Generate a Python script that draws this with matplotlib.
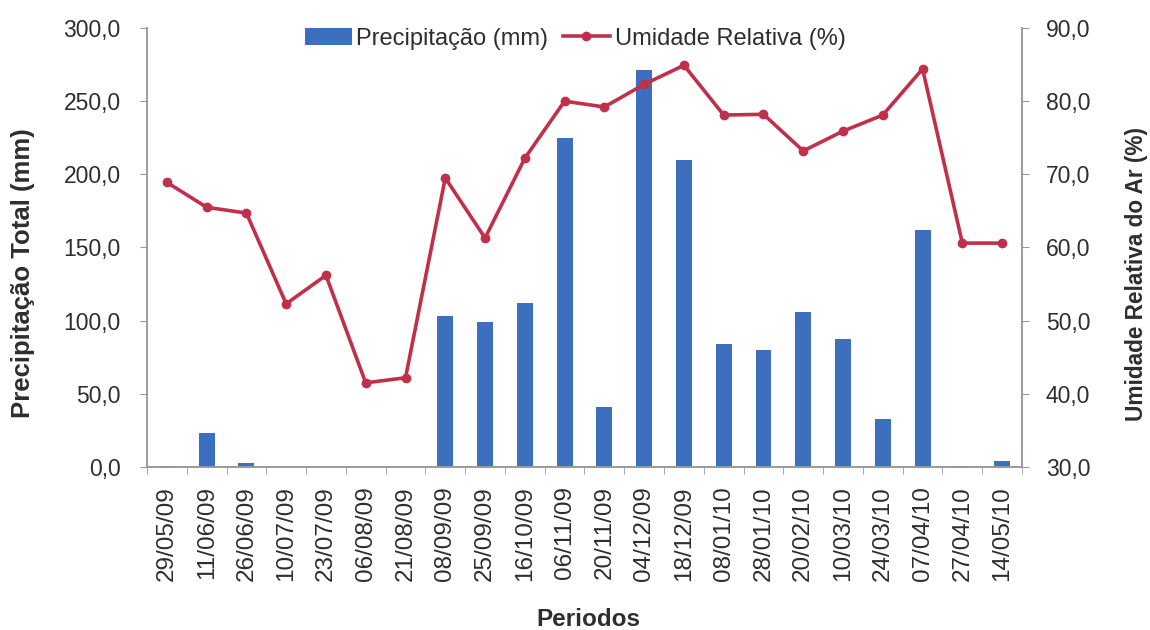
import matplotlib
matplotlib.use("Agg")
import matplotlib.pyplot as plt
from matplotlib.ticker import FuncFormatter, FixedLocator
import numpy as np

plt.rcParams['font.family'] = ['Liberation Sans', 'DejaVu Sans']

periodos = ["29/05/09", "11/06/09", "26/06/09", "10/07/09", "23/07/09", "06/08/09",
            "21/08/09", "08/09/09", "25/09/09", "16/10/09", "06/11/09", "20/11/09",
            "04/12/09", "18/12/09", "08/01/10", "28/01/10", "20/02/10", "10/03/10",
            "24/03/10", "07/04/10", "27/04/10", "14/05/10"]
precipitacao = [1.0, 23.0, 3.0, 0.0, 0.0, 0.0, 0.0, 103.0, 99.0, 112.0, 225.0, 41.0,
                271.0, 210.0, 84.0, 80.0, 106.0, 87.5, 33.0, 162.0, 1.0, 4.0]
umidade = [68.9, 65.5, 64.7, 52.3, 56.2, 41.5, 42.2, 69.5, 61.3, 72.2, 80.0, 79.2,
           82.3, 84.9, 78.1, 78.2, 73.2, 75.9, 78.1, 84.4, 60.6, 60.6]

bar_color = '#3C6FBE'
line_color = '#C0304A'
axis_gray = '#9A9A9A'
text_color = '#2E2E2E'

fig = plt.figure(figsize=(11.5, 6.3), dpi=100)
ax = fig.add_axes([0.1278, 0.2587, 0.7609, 0.6969])
ax2 = ax.twinx()

x = np.arange(len(periodos))
bars = ax.bar(x, precipitacao, width=0.4, color=bar_color, zorder=2,
              label='Precipitação (mm)')
line, = ax2.plot(x, umidade, color=line_color, lw=2.6, marker='o', markersize=6,
                 label='Umidade Relativa (%)', zorder=3)
ax.set_zorder(ax2.get_zorder() - 1)
ax.patch.set_visible(True)
ax2.patch.set_visible(False)

ax.set_xlim(-0.5, len(periodos) - 0.5)
ax.set_ylim(0, 300)
ax2.set_ylim(30, 90)
ax.set_yticks(np.arange(0, 301, 50))
ax2.set_yticks(np.arange(30, 91, 10))
fmt = FuncFormatter(lambda v, p: f"{v:.1f}".replace('.', ','))
ax.yaxis.set_major_formatter(fmt)
ax2.yaxis.set_major_formatter(fmt)

# category labels centred, tick marks on category boundaries
ax.set_xticks(x)
ax.set_xticklabels(periodos, rotation=90, fontsize=17.5, color=text_color)
ax.xaxis.set_minor_locator(FixedLocator(np.arange(-0.5, len(periodos), 1.0)))
ax.tick_params(axis='x', which='major', length=0, pad=14)
ax.tick_params(axis='x', which='minor', length=5, color=axis_gray, direction='out')
ax.tick_params(axis='y', labelsize=16.5, colors=text_color, length=5, color=axis_gray, pad=14)
ax2.tick_params(axis='y', labelsize=16.5, colors=text_color, length=5, color=axis_gray, pad=12)

for a in (ax, ax2):
    a.spines['top'].set_visible(False)
    for s in ('left', 'right', 'bottom'):
        a.spines[s].set_color(axis_gray)
        a.spines[s].set_linewidth(1.2)

ax.set_ylabel('Precipitação Total (mm)', fontsize=18.5, fontweight='bold',
              color=text_color)
ax2.set_ylabel('Umidade Relativa do Ar (%)', fontsize=16.3, fontweight='bold',
               color=text_color)
ax.set_xlabel('Periodos', fontsize=17.5, fontweight='bold', color=text_color)
ax.yaxis.set_label_coords(-0.128, 0.442)
ax2.yaxis.set_label_coords(1.118, 0.44)
ax.xaxis.set_label_coords(0.505, -0.322)

fig.legend(handles=[bars, line], loc='upper center', bbox_to_anchor=(0.5, 0.99),
           ncol=2, frameon=False, fontsize=17, handlelength=2.0, columnspacing=0.6,
           handletextpad=0.2, labelcolor=text_color)

fig.savefig('out.png', dpi=100, facecolor='white')
